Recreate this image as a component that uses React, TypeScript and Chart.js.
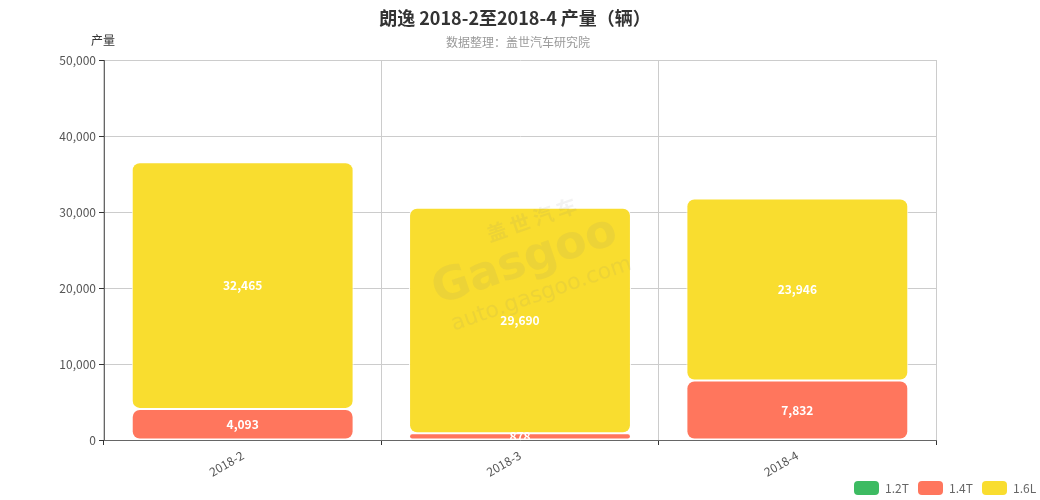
import React, { useEffect, useRef } from "react";
import { Chart, registerables } from "chart.js";

Chart.register(...registerables);

const categories = ["2018-2", "2018-3", "2018-4"];
const series12T: (number | null)[] = [null, null, null];
const series14T = [4093, 878, 7832];
const series16L = [32465, 29690, 23946];
const yTicks = [0, 10000, 20000, 30000, 40000, 50000];

const FONT = "'Noto Sans CJK SC', 'Noto Sans', sans-serif";

const radiusPlugin = {
  id: "allRadius",
  afterDatasetsUpdate(chart: any) {
    chart.data.datasets.forEach((_: any, di: number) => {
      chart.getDatasetMeta(di).data.forEach((el: any) => {
        el.enableBorderRadius = true;
      });
    });
  },
};

const decorPlugin = {
  id: "decor",
  afterDraw(chart: any) {
    const ctx = chart.ctx;
    ctx.save();
    ctx.textAlign = "center";
    ctx.textBaseline = "middle";
    ctx.fillStyle = "#333";
    ctx.font = `bold 18px ${FONT}`;
    ctx.fillText("朗逸 2018-2至2018-4 产量（辆）", 515, 18);
    ctx.fillStyle = "#999";
    ctx.font = `12px ${FONT}`;
    ctx.fillText("数据整理：盖世汽车研究院", 518, 42);
    ctx.fillStyle = "#333";
    ctx.font = `12px ${FONT}`;
    ctx.fillText("产量", 103, 40);
    ctx.restore();
  },
};

const legendPlugin = {
  id: "customLegend",
  afterDraw(chart: any) {
    const ctx = chart.ctx;
    const xs = [854, 918, 982];
    ctx.save();
    ctx.font = `12px ${FONT}`;
    ctx.textBaseline = "middle";
    ctx.textAlign = "left";
    chart.data.datasets.forEach((ds: any, i: number) => {
      const x = xs[i];
      ctx.fillStyle = ds.backgroundColor;
      ctx.beginPath();
      (ctx as any).roundRect(x, 481, 25, 14, 4);
      ctx.fill();
      ctx.fillStyle = "#666";
      ctx.fillText(ds.label, x + 31, 488.5);
    });
    ctx.restore();
  },
};

const watermarkPlugin = {
  id: "watermark",
  afterDatasetsDraw(chart: any) {
    const ctx = chart.ctx;
    ctx.save();
    ctx.translate(525, 262);
    ctx.rotate((-19 * Math.PI) / 180);
    ctx.fillStyle = "rgba(130,130,130,0.10)";
    ctx.textAlign = "center";
    ctx.textBaseline = "middle";
    ctx.font = `bold 20px ${FONT}`;
    ctx.fillText("盖 世 汽 车", 20, -38);
    ctx.font = `bold 46px 'DejaVu Sans', sans-serif`;
    ctx.fillText("Gasgoo", 0, 0);
    ctx.font = `22px 'DejaVu Sans', sans-serif`;
    ctx.fillText("auto.gasgoo.com", 5, 36);
    ctx.restore();
  },
};

const labelPlugin = {
  id: "barLabels",
  afterDatasetsDraw(chart: any) {
    const ctx = chart.ctx;
    const area = chart.chartArea;
    ctx.save();
    ctx.beginPath();
    ctx.rect(area.left, area.top, area.right - area.left, area.bottom - area.top);
    ctx.clip();
    ctx.fillStyle = "#fff";
    ctx.font = `bold 12px ${FONT}`;
    ctx.textAlign = "center";
    ctx.textBaseline = "middle";
    chart.data.datasets.forEach((ds: any, di: number) => {
      const meta = chart.getDatasetMeta(di);
      meta.data.forEach((bar: any, i: number) => {
        const v = ds.data[i];
        if (!v) return;
        const y = (bar.y + bar.base) / 2;
        ctx.fillText(v.toLocaleString("en-US"), bar.x, y);
      });
    });
    ctx.restore();
  },
};

export default function App() {
  const ref = useRef<HTMLCanvasElement>(null);
  useEffect(() => {
    document.body.style.margin = "0";
    const barCommon = {
      borderRadius: 8,
      borderSkipped: false,
      borderWidth: 1,
      borderColor: "#ffffff",
      categoryPercentage: 0.8,
      barPercentage: 1,
    };
    const chart = new Chart(ref.current!, {
      type: "bar",
      data: {
        labels: categories,
        datasets: [
          { label: "1.2T", data: series12T, backgroundColor: "#3dbb62", ...barCommon },
          { label: "1.4T", data: series14T, backgroundColor: "#ff765d", ...barCommon },
          { label: "1.6L", data: series16L, backgroundColor: "#f9dd2f", ...barCommon },
        ],
      },
      plugins: [radiusPlugin, watermarkPlugin, labelPlugin, decorPlugin, legendPlugin],
      options: {
        responsive: false,
        animation: false,
        devicePixelRatio: 1,
        layout: { padding: { top: 60, left: 0, right: 0, bottom: 0 } },
        plugins: {
          title: { display: false },
          tooltip: { enabled: false },
          legend: { display: false },
        },
        scales: {
          x: {
            stacked: true,
            offset: true,
            grid: { display: true, offset: true, color: "#ccc", tickColor: "#333", tickLength: 5, drawOnChartArea: true },
            border: { display: true, color: "#666" },
            ticks: {
              font: { family: FONT, size: 12 },
              color: "#555",
              maxRotation: 30,
              minRotation: 30,
              padding: 3,
            },
            afterFit: (s: any) => {
              s.height = 60;
            },
          },
          y: {
            stacked: true,
            min: 0,
            max: 50000,
            afterBuildTicks: (s: any) => {
              s.ticks = yTicks.map((v) => ({ value: v }));
            },
            grid: { color: "#ccc", tickColor: "#333", tickLength: 5 },
            border: { display: true, color: "#666" },
            ticks: {
              font: { family: FONT, size: 12 },
              color: "#555",
              padding: 3,
              callback: (v: any) => Number(v).toLocaleString("en-US"),
            },
            afterFit: (s: any) => {
              s.width = 104;
            },
          },
          y2: {
            position: "right",
            display: true,
            grid: { display: false },
            border: { display: false },
            ticks: { display: false },
            afterFit: (s: any) => {
              s.width = 104;
            },
          },
        },
      },
    });
    return () => chart.destroy();
  }, []);
  return <canvas ref={ref} width={1040} height={500} style={{ display: "block" }} />;
}
